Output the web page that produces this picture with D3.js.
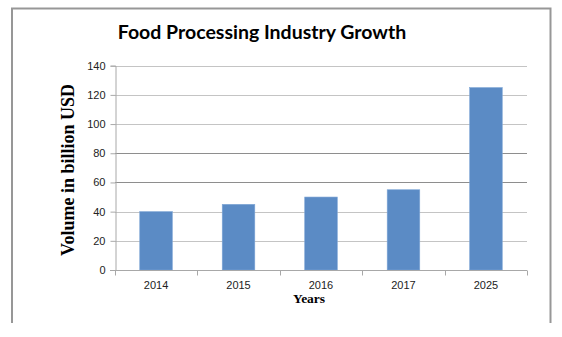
<!DOCTYPE html>
<html><head><meta charset="utf-8">
<script src="https://cdn.jsdelivr.net/npm/d3@7"></script>
<style>body{margin:0;background:#fff}svg{display:block}</style>
</head><body>
<script>
const categories = ["2014","2015","2016","2017","2025"];
const values = [40, 45, 50, 55, 125];
const yTicks = [0,20,40,60,80,100,120,140];
const title = "Food Processing Industry Growth";
const yTitle = "Volume in billion USD";
const xTitle = "Years";

const W = 562, H = 337;
const svg = d3.select("body").append("svg").attr("width", W).attr("height", H);

// frame (open at bottom)
svg.append("path").attr("d","M12,323V8.5H550.5V323").attr("fill","none")
  .attr("stroke","#979797").attr("stroke-width",2);

const m = {left:115, right:527, top:65.7, bottom:270};
const x = d3.scaleBand().domain(categories).range([m.left, m.right]).paddingInner(0.605).paddingOuter(0.3);
const y = d3.scaleLinear().domain([0,140]).range([m.bottom, m.top]);

// gridlines
svg.append("g").selectAll("line").data(yTicks.filter(d=>d>0)).join("line")
  .attr("x1", m.left).attr("x2", m.right)
  .attr("y1", d=>Math.round(y(d))+0.5).attr("y2", d=>Math.round(y(d))+0.5)
  .attr("stroke", d=> (d===60||d===80) ? "#8e8e8e" : "#c4c4c4").attr("stroke-width",1);

// bars
svg.append("g").selectAll("rect").data(values).join("rect")
  .attr("x",(d,i)=>x(categories[i])).attr("width",x.bandwidth())
  .attr("y",d=>y(d)).attr("height",d=>y(0)-y(d))
  .attr("fill","#5b8bc5").attr("stroke","#7ea6d6").attr("stroke-width",0.6);

// y axis
const ya = svg.append("g").attr("transform",`translate(${m.left+0.5},0)`)
  .call(d3.axisLeft(y).tickValues(yTicks).tickSize(5).tickPadding(5));
ya.select(".domain").attr("stroke","#a8a8a8");
ya.selectAll(".tick line").attr("stroke","#a8a8a8");
ya.selectAll("text").attr("font-family","'Liberation Sans', Arial, sans-serif").attr("font-size",11).attr("fill","#222");

// x axis with ticks on category boundaries
const xa = svg.append("g").attr("transform",`translate(0,${m.bottom+0.5})`);
xa.append("line").attr("x1",m.left-5).attr("x2",m.right).attr("stroke","#a8a8a8");
const step = (m.right-m.left)/categories.length;
xa.selectAll(".tk").data(d3.range(categories.length+1)).join("line").attr("class","tk")
  .attr("x1",i=>Math.round(m.left+i*step)+0.5).attr("x2",i=>Math.round(m.left+i*step)+0.5)
  .attr("y1",0).attr("y2",5).attr("stroke","#a8a8a8");
xa.selectAll("text").data(categories).join("text")
  .attr("x",d=>x(d)+x.bandwidth()/2).attr("y",18).attr("text-anchor","middle")
  .attr("font-family","'Liberation Sans', Arial, sans-serif").attr("font-size",11).attr("fill","#222").text(d=>d);

// titles
svg.append("text").attr("x",262).attr("y",39).attr("text-anchor","middle")
  .attr("font-family","Lato, 'Open Sans', sans-serif").attr("font-weight","bold").attr("font-size",19.5)
  .attr("fill","#000").text(title);
svg.append("text").attr("transform","translate(74,170) rotate(-90)").attr("text-anchor","middle")
  .attr("font-family","'Liberation Serif', 'Times New Roman', serif").attr("font-weight","bold").attr("font-size",18)
  .attr("fill","#000").text(yTitle);
svg.append("text").attr("x",309).attr("y",303).attr("text-anchor","middle")
  .attr("font-family","'Liberation Serif', 'Times New Roman', serif").attr("font-weight","bold").attr("font-size",13.5)
  .attr("fill","#000").text(xTitle);
</script>
</body></html>
